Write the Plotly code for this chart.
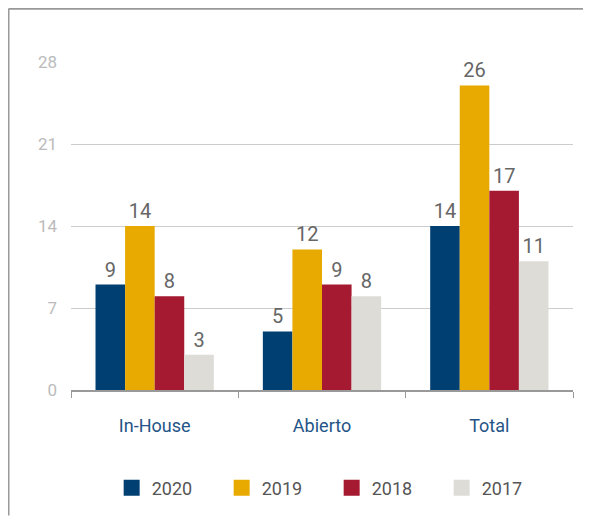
import plotly.graph_objects as go

# data
categories = ["In-House", "Abierto", "Total"]
years = ["2020", "2019", "2018", "2017"]
values_2020 = [9, 5, 14]
values_2019 = [14, 12, 26]
values_2018 = [8, 9, 17]
values_2017 = [3, 8, 11]
y_ticks = [0, 7, 14, 21, 28]

colors = ["#003f72", "#e8aa00", "#a51931", "#dedcd7"]
series = [values_2020, values_2019, values_2018, values_2017]

fig = go.Figure()
for name, vals, col in zip(years, series, colors):
    fig.add_trace(go.Bar(
        x=categories, y=vals, name=name, showlegend=False,
        marker=dict(color=col, line=dict(width=0)),
        text=vals, textposition="outside",
        textfont=dict(family="Roboto", size=20, color="#666666"),
        cliponaxis=False,
    ))

# legend swatches (bigger squares than bar legend icons)
for name, col in zip(years, colors):
    fig.add_trace(go.Scatter(
        x=[None], y=[None], name=name, mode="markers",
        marker=dict(symbol="square", size=18, color=col),
    ))

fig.update_layout(
    width=583, height=509,
    margin=dict(l=63, r=18, t=54, b=126),
    paper_bgcolor="white", plot_bgcolor="white",
    barmode="group", bargap=0.293, bargroupgap=0,
    font=dict(family="Roboto", size=16),
    showlegend=True,
    legend=dict(orientation="h", x=0.081, xanchor="left", y=-0.295, yanchor="middle",
                font=dict(size=18, color="#555555"), entrywidth=65, traceorder="normal"),
    xaxis=dict(showline=True, linecolor="#999999", linewidth=1.5,
               ticks="outside", tickson="boundaries", ticklen=6, tickcolor="#999999",
               tickfont=dict(size=18, color="#245487"), showgrid=False,
               ticklabelstandoff=19),
    yaxis=dict(range=[0, 28], tickvals=y_ticks, showgrid=True, gridcolor="#cccccc",
               gridwidth=1, zeroline=False, showline=False,
               tickfont=dict(size=17, color="#bbbbbb"), ticks="", ticklabelstandoff=13),
)

# frame (only top and left edges are visible)
fx = -62.5 / 502
fy = 1 + 53.5 / 329
fig.add_shape(type="line", xref="paper", yref="paper", x0=fx, x1=1 + 18 / 502, y0=fy, y1=fy,
              line=dict(color="#999999", width=2))
fig.add_shape(type="line", xref="paper", yref="paper", x0=fx, x1=fx, y0=fy, y1=-126 / 329,
              line=dict(color="#999999", width=2))

fig.write_html("out.html")
